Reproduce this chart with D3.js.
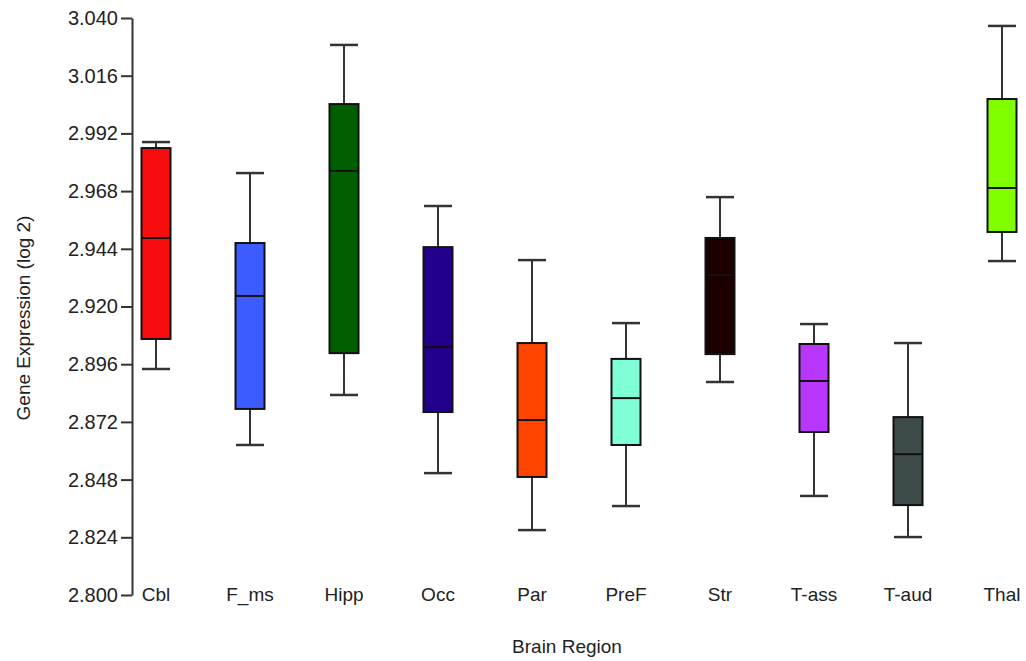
<!DOCTYPE html>
<html>
<head>
<meta charset="utf-8">
<script src="https://cdn.jsdelivr.net/npm/d3@7"></script>
<style>
  html, body { margin: 0; padding: 0; background: #fff; }
  svg { display: block; }
</style>
</head>
<body>
<div id="chart"></div>
<script>
/* Box plot data: whisker min, Q1, median, Q3, whisker max */
const regions  = ["Cbl", "F_ms", "Hipp", "Occ", "Par", "PreF", "Str", "T-ass", "T-aud", "Thal"];
const whiskLow = [2.8940, 2.8624, 2.8832, 2.8507, 2.8270, 2.8370, 2.8886, 2.8412, 2.8241, 2.9389];
const q1       = [2.9065, 2.8774, 2.9006, 2.8761, 2.8491, 2.8624, 2.9002, 2.8678, 2.8374, 2.9510];
const medians  = [2.9485, 2.9244, 2.9764, 2.9031, 2.8728, 2.8819, 2.9331, 2.8890, 2.8586, 2.9693];
const q3       = [2.9859, 2.9464, 3.0042, 2.9447, 2.9048, 2.8982, 2.9485, 2.9044, 2.8740, 3.0063];
const whiskHigh= [2.9884, 2.9755, 3.0288, 2.9618, 2.9393, 2.9131, 2.9655, 2.9127, 2.9048, 3.0367];
const fills    = ["#f70d0d", "#3d5cff", "#005f00", "#23008c", "#ff4500", "#7fffd8", "#1c0000", "#b936ff", "#3c4a4a", "#80ff00"];
const yTicks   = [2.800, 2.824, 2.848, 2.872, 2.896, 2.920, 2.944, 2.968, 2.992, 3.016, 3.040];

const W = 1026, H = 661;
const font = "'Liberation Sans', Arial, sans-serif";

const svg = d3.select("#chart").append("svg")
  .attr("width", W).attr("height", H)
  .style("font-family", font);

const y = d3.scaleLinear().domain([2.8, 3.04]).range([595, 18]);
const x = d3.scalePoint().domain(regions).range([156, 1002]);
const boxW = 29;

/* ── Y axis ── */
const yAxis = svg.append("g")
  .attr("transform", "translate(132,0)")
  .call(d3.axisLeft(y).tickValues(yTicks).tickFormat(d3.format(".3f")).tickSize(11).tickSizeOuter(0));
yAxis.select(".domain").attr("stroke", "#333").attr("stroke-width", 2);
yAxis.selectAll(".tick line").attr("stroke", "#333").attr("stroke-width", 2);
yAxis.selectAll(".tick text")
  .attr("x", -14)
  .attr("fill", "#222")
  .style("font-size", "20px")
  .style("font-family", font);

svg.append("text")
  .attr("transform", "translate(23,318) rotate(-90)")
  .attr("text-anchor", "middle")
  .attr("dy", "0.35em")
  .attr("fill", "#222")
  .style("font-size", "19px")
  .text("Gene Expression (log 2)");

/* ── X category labels (no axis line) ── */
svg.append("g").selectAll("text")
  .data(regions)
  .enter().append("text")
  .attr("x", d => x(d))
  .attr("y", 601)
  .attr("text-anchor", "middle")
  .attr("fill", "#222")
  .style("font-size", "19px")
  .text(d => d);

svg.append("text")
  .attr("x", 567).attr("y", 653)
  .attr("text-anchor", "middle")
  .attr("fill", "#222")
  .style("font-size", "19px")
  .text("Brain Region");

/* ── Boxes ── */
const boxes = svg.append("g").selectAll("g.box")
  .data(regions.map((r, i) => ({ r, lo: whiskLow[i], q1: q1[i], med: medians[i], q3: q3[i], hi: whiskHigh[i], fill: fills[i] })))
  .enter().append("g").attr("class", "box");

// whisker stems
boxes.append("line")
  .attr("x1", d => x(d.r)).attr("x2", d => x(d.r))
  .attr("y1", d => y(d.hi)).attr("y2", d => y(d.q3))
  .attr("stroke", "#333").attr("stroke-width", 2);
boxes.append("line")
  .attr("x1", d => x(d.r)).attr("x2", d => x(d.r))
  .attr("y1", d => y(d.q1)).attr("y2", d => y(d.lo))
  .attr("stroke", "#333").attr("stroke-width", 2);

// caps
["hi", "lo"].forEach(k => {
  boxes.append("line")
    .attr("x1", d => x(d.r) - 14).attr("x2", d => x(d.r) + 14)
    .attr("y1", d => y(d[k])).attr("y2", d => y(d[k]))
    .attr("stroke", "#333").attr("stroke-width", 2.5);
});

// box body
boxes.append("rect")
  .attr("x", d => x(d.r) - boxW / 2)
  .attr("width", boxW)
  .attr("y", d => y(d.q3))
  .attr("height", d => y(d.q1) - y(d.q3))
  .attr("fill", d => d.fill)
  .attr("stroke", "#111").attr("stroke-width", 2);

// median
boxes.append("line")
  .attr("x1", d => x(d.r) - boxW / 2).attr("x2", d => x(d.r) + boxW / 2)
  .attr("y1", d => y(d.med)).attr("y2", d => y(d.med))
  .attr("stroke", "#111").attr("stroke-width", 2);
</script>
</body>
</html>
